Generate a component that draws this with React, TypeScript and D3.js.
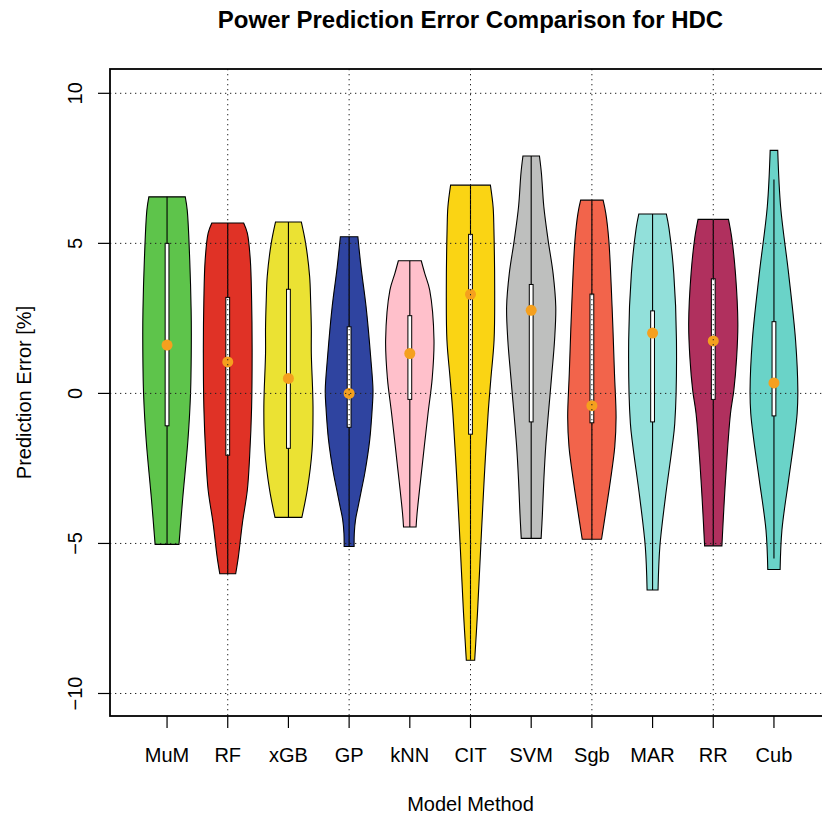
import React from "react";
import * as d3 from "d3";

const categories = ["MuM", "RF", "xGB", "GP", "kNN", "CIT", "SVM", "Sgb", "MAR", "RR", "Cub"];
const fillColors = ["#5EC44B", "#E03226", "#EBE233", "#2F44A0", "#FFC0CB", "#FAD414", "#BEBFBE", "#F2644B", "#92E0DA", "#B0305E", "#6AD3C8"];
const q1Values = [-1.08, -2.06, -1.83, -1.13, -0.2, -1.36, -0.95, -0.98, -0.95, -0.2, -0.75];
const q3Values = [5.0, 3.2, 3.47, 2.22, 2.59, 5.3, 3.63, 3.31, 2.75, 3.82, 2.39];
const medianValues = [1.61, 1.05, 0.5, 0.0, 1.33, 3.3, 2.77, -0.41, 2.01, 1.75, 0.35];
const whiskerLow = [-5.03, -6.01, -4.13, -5.1, -4.45, -8.89, -4.83, -4.86, -6.55, -5.08, -5.5];
const whiskerHigh = [6.55, 5.68, 5.71, 5.22, 4.42, 6.94, 7.91, 6.44, 5.98, 5.8, 7.13];

// relative density profiles: [value, density]
const profileMuM: [number, number][] = [[-5.03, 12], [-3.55, 15.6], [-1.55, 21.0], [0, 23.6], [1.8, 24.4], [2.78, 24.2], [4.44, 22.8], [6.1, 20.3], [6.55, 18.3]];
const profileRF: [number, number][] = [[-6.01, 8], [-5.44, 10.7], [-4.33, 14.7], [-3.22, 19.7], [-2.1, 22], [-0.45, 24], [1.5, 24.5], [3.1, 24], [4.44, 22.7], [5.34, 19.7], [5.68, 16]];
const profileXGB: [number, number][] = [[-4.13, 13.5], [-3.2, 19], [-1.9, 23.7], [-0.45, 24.7], [1.34, 23], [2.2, 23], [3.1, 22.3], [3.9, 21.3], [5.0, 17.3], [5.71, 13]];
const profileGP: [number, number][] = [[-5.1, 5], [-4.66, 5.2], [-4.2, 6.5], [-3.78, 9], [-3.2, 12.5], [-2.67, 15.7], [-1.55, 20.7], [-0.45, 23.3], [0.1, 24], [1.2, 21.7], [2.9, 17], [4.2, 12], [5.22, 8.8]];
const profileKNN: [number, number][] = [[-4.45, 6.3], [-4.0, 7.3], [-2.33, 12.7], [-0.67, 18.3], [0.5, 22.5], [1.78, 24.3], [3.44, 20], [4.0, 15], [4.42, 11.5]];
const profileCIT: [number, number][] = [[-8.89, 4.2], [-7.33, 7], [-5.11, 10.3], [-2.89, 13.7], [-0.67, 17.7], [0.5, 20.5], [1.78, 23.7], [3.44, 24.3], [5.5, 23.5], [6.22, 22.7], [6.94, 20]];
const profileSVM: [number, number][] = [[-4.83, 10], [-4.0, 11.3], [-2.89, 12.7], [-1.78, 14.6], [-0.67, 17.3], [0.6, 20.6], [1.78, 23.5], [2.89, 24.7], [4.0, 22], [5.11, 17], [6.22, 12.7], [7.33, 10.3], [7.91, 8.3]];
const profileSgb: [number, number][] = [[-4.86, 9.7], [-4.0, 13.7], [-2.89, 18.7], [-1.78, 23], [-0.8, 24.3], [0.67, 22.7], [2.89, 20.3], [5.11, 17], [6.0, 14], [6.44, 11.3]];
const profileMAR: [number, number][] = [[-6.55, 5.5], [-5.11, 7.3], [-3.44, 13], [-1.78, 19.7], [-1.0, 22.3], [1.78, 24], [4.0, 21.3], [5.5, 16.5], [5.98, 13.8]];
const profileRR: [number, number][] = [[-5.08, 8.7], [-2.89, 12.3], [-0.67, 17.3], [0.11, 20.7], [1.2, 23.5], [2.33, 24.7], [4.0, 22.3], [5.2, 18.5], [5.8, 15.3]];
const profileCub: [number, number][] = [[-5.87, 6.2], [-4.56, 8], [-2.89, 14.7], [-1.5, 20.5], [-0.67, 23.3], [0.11, 24], [1.78, 21.7], [4.0, 14.7], [6.22, 6.7], [8.1, 3.8]];
const violinProfiles = [profileMuM, profileRF, profileXGB, profileGP, profileKNN, profileCIT, profileSVM, profileSgb, profileMAR, profileRR, profileCub];

const yTicks = [-10, -5, 0, 5, 10];
const xGridTicks = [2, 4, 6, 8, 10];

const FONT = "'Liberation Sans', Arial, Helvetica, sans-serif";

export default function App() {
  const W = 822;
  const H = 815;
  const left = 110, right = 831, top = 69, bottom = 716;
  const x = d3.scaleLinear().domain([0.06, 11.94]).range([left, right]);
  const y = d3.scaleLinear().domain([-10.75, 10.81]).range([bottom, top]);
  const step = x(2) - x(1);
  const wScale = d3.scaleLinear().domain([0, 24.7]).range([0, 0.405 * step]);
  const fmt = (v: number) => (v < 0 ? "\u2212" + Math.abs(v) : String(v));

  return (
    <svg width={W} height={H} style={{ position: "absolute", left: 0, top: 0, background: "#fff" }} fontFamily={FONT}>
      <rect x={0} y={0} width={W} height={H} fill="#fff" />
      {/* violins */}
      {categories.map((c, i) => {
        const cx = x(i + 1);
        const area = d3
          .area<[number, number]>()
          .y((d) => y(d[0]))
          .x0((d) => cx - wScale(d[1]))
          .x1((d) => cx + wScale(d[1]))
          .curve(d3.curveCatmullRom.alpha(0.5));
        return (
          <g key={c}>
            <path d={area(violinProfiles[i]) || ""} fill={fillColors[i]} stroke="#000" strokeWidth={1.1} />
            <line x1={cx} x2={cx} y1={y(whiskerLow[i])} y2={y(whiskerHigh[i])} stroke="#000" strokeWidth={1.1} />
            <rect x={cx - 1.9} width={3.8} y={y(q3Values[i])} height={y(q1Values[i]) - y(q3Values[i])} fill="#fff" stroke="#000" strokeWidth={1} />
            <circle cx={cx} cy={y(medianValues[i])} r={5.5} fill="#F5A01E" />
          </g>
        );
      })}
      {/* grid overlay */}
      {yTicks.map((t) => (
        <line key={"gy" + t} x1={left} x2={right} y1={y(t)} y2={y(t)} stroke="#222" strokeWidth={1} strokeDasharray="1.3 3.7" />
      ))}
      {xGridTicks.map((t) => (
        <line key={"gx" + t} x1={x(t)} x2={x(t)} y1={top} y2={bottom} stroke="#222" strokeWidth={1} strokeDasharray="1.3 3.7" />
      ))}
      {/* box */}
      <rect x={left} y={top} width={right - left} height={bottom - top} fill="none" stroke="#000" strokeWidth={1.8} />
      {/* y axis */}
      {yTicks.map((t) => (
        <g key={"yt" + t}>
          <line x1={left - 12} x2={left} y1={y(t)} y2={y(t)} stroke="#000" strokeWidth={1.2} />
          <text transform={`translate(82,${y(t)}) rotate(-90)`} textAnchor="middle" fontSize={20} fill="#000">
            {fmt(t)}
          </text>
        </g>
      ))}
      {/* x axis */}
      {categories.map((c, i) => (
        <g key={"xt" + c}>
          <line x1={x(i + 1)} x2={x(i + 1)} y1={bottom} y2={bottom + 12} stroke="#000" strokeWidth={1.2} />
          <text x={x(i + 1)} y={762} textAnchor="middle" fontSize={20} fill="#000">
            {c}
          </text>
        </g>
      ))}
      <text x={(left + right) / 2} y={811} textAnchor="middle" fontSize={20} fill="#000">
        Model Method
      </text>
      <text transform={`translate(31,${(top + bottom) / 2}) rotate(-90)`} textAnchor="middle" fontSize={20} fill="#000">
        Prediction Error [%]
      </text>
      <text x={(left + right) / 2} y={28} textAnchor="middle" fontSize={24} fontWeight="bold" fill="#000">
        Power Prediction Error Comparison for HDC
      </text>
    </svg>
  );
}
